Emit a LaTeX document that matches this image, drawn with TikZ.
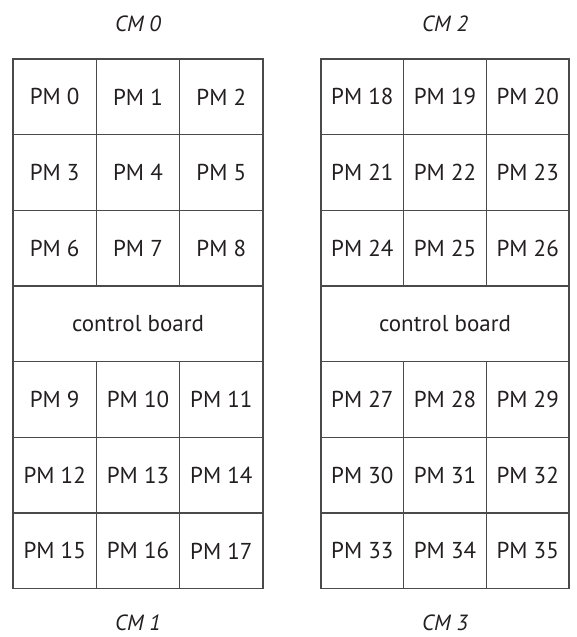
\documentclass[tikz,border=0pt]{standalone}
\usepackage{fontspec}
\setmainfont{PT Sans}
\definecolor{gridline}{HTML}{4A4A4A}
\definecolor{ink}{HTML}{231F20}
\begin{document}
\begin{tikzpicture}[x=1pt,y=-1pt,
  cell/.style={draw=gridline, line width=1.2pt, inner sep=0pt, minimum height=75.67pt, text=ink, font=\fontsize{23}{27}\selectfont, anchor=center},
  cmlabel/.style={text=ink, inner sep=0pt, font=\fontsize{22}{26}\selectfont\itshape, anchor=base}]
\useasboundingbox (0,0) rectangle (576,637);
\foreach \r in {0,1,2,4,5,6}{
  \foreach \c in {0,1,2}{
    \pgfmathtruncatemacro{\n}{\r<3 ? 3*\r+\c : 9+3*(\r-4)+\c}
    \pgfmathtruncatemacro{\m}{\n+18}
    \node[cell, minimum width=83.33pt] (pm\n) at ({13+(\c+0.5)*83.33},{59+(\r+0.5)*75.67}) {PM \n};
    \node[cell, minimum width=82.67pt] (pm\m) at ({321+(\c+0.5)*82.67},{59+(\r+0.5)*75.67}) {PM \m};
  }
}
\node[cell, minimum width=250pt] (cbL) at (138,{59+3.5*75.67}) {control board};
\node[cell, minimum width=248pt] (cbR) at (445,{59+3.5*75.67}) {control board};
\node[cmlabel] (cm0) at (138,31) {CM 0};
\node[cmlabel] (cm1) at (138,630) {CM 1};
\node[cmlabel] (cm2) at (445,31) {CM 2};
\node[cmlabel] (cm3) at (445,630) {CM 3};
\end{tikzpicture}
\end{document}
